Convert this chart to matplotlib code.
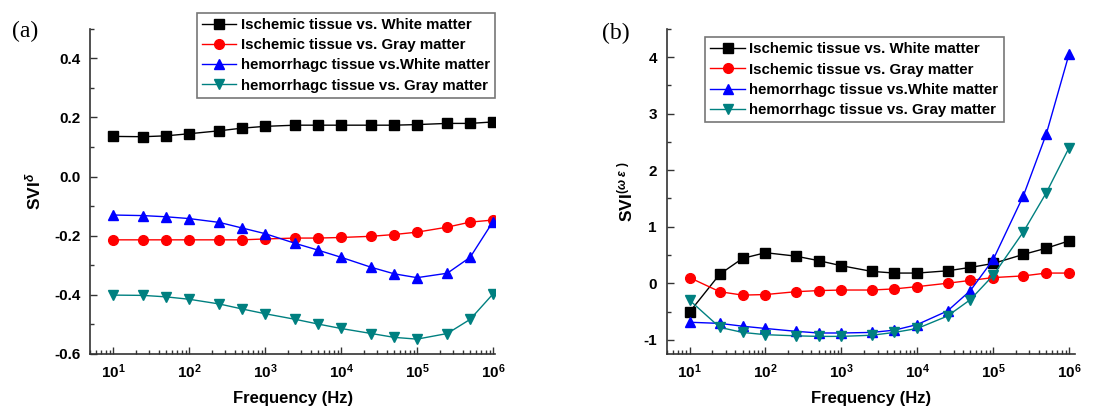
import numpy as np
import matplotlib
matplotlib.use('Agg')
import matplotlib.pyplot as plt
from matplotlib.ticker import MultipleLocator, LogLocator, FixedLocator, NullFormatter

plt.rcParams['font.family'] = ['Liberation Sans', 'DejaVu Sans']
plt.rcParams['font.weight'] = 'bold'
plt.rcParams['axes.unicode_minus'] = False
plt.rcParams['mathtext.fontset'] = 'custom'
plt.rcParams['mathtext.rm'] = 'Liberation Sans:bold'
plt.rcParams['mathtext.bf'] = 'Liberation Sans:bold'
plt.rcParams['mathtext.it'] = 'Liberation Sans:italic'

# measurement frequencies (Hz)
freq = [10, 25, 50, 100, 250, 500, 1e3, 2.5e3, 5e3, 1e4, 2.5e4, 5e4, 1e5, 2.5e5, 5e5, 1e6]

labels = ['Ischemic tissue vs. White matter',
          'Ischemic tissue vs. Gray matter',
          'hemorrhagc tissue vs.White matter',
          'hemorrhagc tissue vs. Gray matter']

# (a) SVI of conductivity
a_isch_white = [0.136, 0.135, 0.138, 0.145, 0.155, 0.164, 0.170, 0.174, 0.174, 0.174,
                0.174, 0.174, 0.176, 0.180, 0.180, 0.185]
a_isch_gray = [-0.214, -0.214, -0.214, -0.214, -0.214, -0.214, -0.211, -0.208, -0.208, -0.206,
               -0.202, -0.196, -0.188, -0.171, -0.154, -0.147]
a_hem_white = [-0.130, -0.132, -0.136, -0.142, -0.155, -0.174, -0.193, -0.226, -0.249, -0.273,
               -0.307, -0.329, -0.342, -0.327, -0.273, -0.152]
a_hem_gray = [-0.401, -0.402, -0.407, -0.415, -0.431, -0.448, -0.464, -0.483, -0.499, -0.514,
              -0.531, -0.544, -0.550, -0.531, -0.483, -0.397]

# (b) SVI of permittivity
b_isch_white = [-0.51, 0.16, 0.44, 0.54, 0.48, 0.40, 0.31, 0.21, 0.18, 0.18,
                0.22, 0.28, 0.35, 0.51, 0.62, 0.75]
b_isch_gray = [0.10, -0.15, -0.21, -0.20, -0.15, -0.13, -0.12, -0.12, -0.10, -0.06,
               0.00, 0.05, 0.10, 0.13, 0.18, 0.18]
b_hem_white = [-0.69, -0.71, -0.76, -0.80, -0.85, -0.88, -0.88, -0.87, -0.83, -0.73,
               -0.49, -0.13, 0.42, 1.55, 2.64, 4.06]
b_hem_gray = [-0.30, -0.78, -0.87, -0.91, -0.93, -0.94, -0.94, -0.92, -0.87, -0.80,
              -0.58, -0.29, 0.14, 0.91, 1.60, 2.40]

colors = ['black', '#ff0000', '#0000ff', '#008080']
markers = ['s', 'o', '^', 'v']

fig = plt.figure(figsize=(11.13, 4.12), dpi=100)
ax1 = fig.add_axes([0.081, 0.141, 0.364, 0.789])
ax2 = fig.add_axes([0.599, 0.141, 0.367, 0.789])


def style_axis(ax, xmax):
    ax.set_xscale('log')
    ax.set_xlim(5, xmax)
    for s in ['top', 'right']:
        ax.spines[s].set_visible(False)
    for s in ['left', 'bottom']:
        ax.spines[s].set_color('#333333')
        ax.spines[s].set_linewidth(1.2)
    ax.xaxis.set_major_locator(FixedLocator([1e1, 1e2, 1e3, 1e4, 1e5, 1e6]))
    ax.set_xticklabels([r'$\mathbf{10^{%d}}$' % e for e in range(1, 7)])
    ax.xaxis.set_minor_locator(LogLocator(base=10, subs=np.arange(2, 10), numticks=20))
    ax.xaxis.set_minor_formatter(NullFormatter())
    ax.tick_params(which='both', direction='in', colors='#333333', labelcolor='black',
                   labelsize=11)
    ax.tick_params(which='major', length=5, width=1)
    ax.tick_params(which='minor', length=3, width=1)
    ax.tick_params(axis='x', pad=6)
    ax.tick_params(axis='y', pad=7)
    ax.set_xlabel('Frequency (Hz)', fontsize=12, fontweight='bold', labelpad=7)


series_a = [a_isch_white, a_isch_gray, a_hem_white, a_hem_gray]
series_b = [b_isch_white, b_isch_gray, b_hem_white, b_hem_gray]

for ys, c, m, lab in zip(series_a, colors, markers, labels):
    ax1.plot(freq, ys, color=c, marker=m, markersize=7, linewidth=1, label=lab)
for ys, c, m, lab in zip(series_b, colors, markers, labels):
    ax2.plot(freq, ys, color=c, marker=m, markersize=7, linewidth=1, label=lab)

style_axis(ax1, 1.07e6)
ax1.set_ylim(-0.6, 0.5)
ax1.yaxis.set_major_locator(MultipleLocator(0.2))
ax1.yaxis.set_minor_locator(MultipleLocator(0.1))
ax1.yaxis.set_major_formatter(plt.FuncFormatter(lambda v, p: '%.1f' % v))
ax1.set_ylabel(r'SVI$^{\delta}$', fontsize=12.5, fontweight='bold', labelpad=8)

style_axis(ax2, 1.2e6)
ax2.set_ylim(-1.25, 4.5)
ax2.yaxis.set_major_locator(MultipleLocator(1))
ax2.yaxis.set_minor_locator(MultipleLocator(0.5))
ax2.set_ylabel(r'SVI$^{(\omega\ \varepsilon\ )}$', fontsize=12.5, fontweight='bold', labelpad=6)

leg_kw = dict(fontsize=10.8, frameon=True, fancybox=False, edgecolor='#555555',
              handlelength=2.3, handletextpad=0.3, borderpad=0.35, labelspacing=0.42,
              borderaxespad=0)
leg1 = ax1.legend(loc='upper right', bbox_to_anchor=(1.0, 1.05), **leg_kw)
leg2 = ax2.legend(loc='upper left', bbox_to_anchor=(0.094, 0.975), **leg_kw)
for leg in (leg1, leg2):
    leg.get_frame().set_linewidth(1.2)
    for t in leg.get_texts():
        t.set_fontweight('bold')

fig.text(0.011, 0.91, '(a)', fontsize=17, family='Liberation Serif', fontweight='normal')
fig.text(0.541, 0.905, '(b)', fontsize=17, family='Liberation Serif', fontweight='normal')

fig.savefig('out.png', dpi=100)
